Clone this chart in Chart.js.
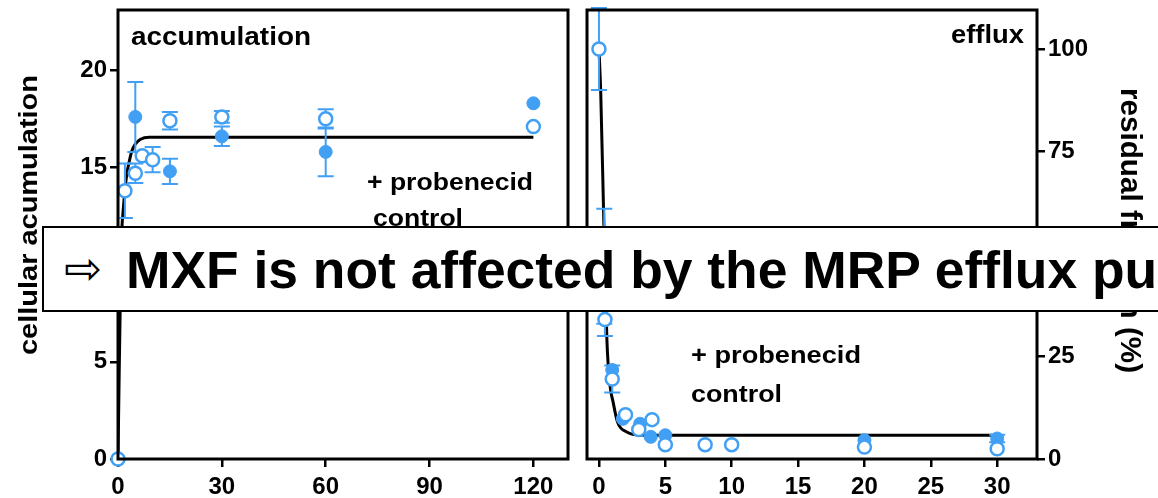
<!DOCTYPE html>
<html>
<head>
<meta charset="utf-8">
<script src="https://cdn.jsdelivr.net/npm/chart.js@4.4.1/dist/chart.umd.min.js"></script>
<style>
  body { margin: 0; width: 1158px; height: 498px; overflow: hidden; background: #fff; position: relative; }
  #accWrap { position: absolute; left: 0; top: 0; width: 580px; height: 498px; }
  #effWrap { position: absolute; left: 570px; top: 0; width: 588px; height: 498px; }
  #note { position: absolute; left: 42px; top: 226px; width: 1200px; height: 82px; border: 2px solid #000; background: #fff; }
  #arrow { position: absolute; left: 64px; top: 246px; font: 45px "DejaVu Sans"; line-height: 45px; white-space: nowrap; }
  #msg { position: absolute; left: 126px; top: 245px; font: bold 51px "Liberation Sans", Arial, sans-serif; line-height: 51px; white-space: nowrap; transform-origin: 0 0; }
</style>
</head>
<body>
<div id="accWrap"><canvas id="accChart"></canvas></div>
<div id="effWrap"><canvas id="effChart"></canvas></div>
<div id="note"></div>
<span id="arrow">⇨</span>
<span id="msg">MXF is not affected by the MRP efflux pu</span>
<script>
// accumulation panel, time in min
const accTicksX = [0, 30, 60, 90, 120];
const accTicksY = [0, 5, 10, 15, 20];
const accOpenT = [0, 2, 5, 7, 10, 15, 30, 60, 120];
const accOpenY = [0, 13.8, 14.7, 15.6, 15.4, 17.4, 17.6, 17.5, 17.1];
const accOpenErr = [0, 1.4, 0.5, 0, 0.65, 0.45, 0.3, 0.5, 0];
const accFilledT = [0, 5, 15, 30, 60, 120];
const accFilledY = [0, 17.6, 14.8, 16.6, 15.8, 18.3];
const accFilledErr = [0, 1.8, 0.65, 0.5, 1.25, 0];
const accFitT = [0, 0.35, 0.7, 1.05, 1.5, 2, 2.5, 3, 4, 5, 6.5, 9, 120];
const accFitY = [0, 4.5, 8.5, 11.5, 12.8, 13.8, 14.6, 15.1, 15.85, 16.2, 16.45, 16.55, 16.55];

// efflux panel, time in min
const effTicksX = [0, 5, 10, 15, 20, 25, 30];
const effTicksY = [0, 25, 50, 75, 100];
const effOpenT = [0, 0.45, 1, 2, 3, 4, 5, 8, 10, 20, 30];
const effOpenY = [100, 34, 19.5, 10.8, 7.2, 9.6, 3.5, 3.5, 3.5, 2.9, 2.5];
const effOpenErr = [10, 4, 3.3, 0, 0, 0, 0, 0, 0, 0, 0];
const effFilledT = [0, 0.4, 1, 1.8, 3.1, 3.9, 5, 20, 30];
const effFilledY = [100, 47, 21.7, 9.8, 8.6, 5.4, 5.8, 4.6, 5.0];
const effFilledErr = [0, 14, 0, 0, 0, 0, 0, 0, 0.9];
const effFitT = [0, 0.13, 0.38, 0.6, 0.83, 1.06, 1.4, 2.1, 2.9, 4, 30];
const effFitY = [100, 90, 56, 29, 18, 14, 9, 6.6, 5.9, 5.8, 5.8];

const BLUE = '#42a0f4';
const FONT = '"Liberation Sans", Arial, sans-serif';

Chart.defaults.font.family = FONT;
Chart.defaults.font.weight = 'bold';
Chart.defaults.color = '#000';

function pts(ts, vs) { return ts.map((t, i) => ({ x: t, y: vs[i] })); }

// draws a string stretched to a given width, from the start of its baseline
function stretchText(ctx, text, x, y, size, width, rot) {
  ctx.save();
  ctx.translate(x, y);
  if (rot) ctx.rotate(rot);
  ctx.font = 'bold ' + size + 'px ' + FONT;
  ctx.fillStyle = '#000';
  ctx.textBaseline = 'alphabetic';
  const w = ctx.measureText(text).width;
  ctx.scale(width / w, 1);
  ctx.fillText(text, 0, 0);
  ctx.restore();
}

const errorBars = {
  id: 'errorBars',
  afterDatasetDraw(chart, args) {
    if (args.index !== 0) return; // right after the fitted curve
    const ctx = chart.ctx, xs = chart.scales.x, ys = chart.scales.y;
    ctx.save();
    ctx.strokeStyle = BLUE;
    ctx.lineWidth = 2;
    chart.data.datasets.forEach(ds => {
      if (!ds.err) return;
      ds.data.forEach((p, i) => {
        const e = ds.err[i];
        if (!e) return;
        const x = xs.getPixelForValue(p.x);
        const y1 = ys.getPixelForValue(p.y + e);
        const y2 = ys.getPixelForValue(p.y - e);
        ctx.beginPath();
        ctx.moveTo(x, y1); ctx.lineTo(x, y2);
        ctx.moveTo(x - 8, y1); ctx.lineTo(x + 8, y1);
        ctx.moveTo(x - 8, y2); ctx.lineTo(x + 8, y2);
        ctx.stroke();
      });
    });
    ctx.restore();
  }
};

const frame = {
  id: 'frame',
  afterDatasetsDraw(chart) {
    const { ctx, chartArea: a } = chart;
    ctx.save();
    ctx.strokeStyle = '#000';
    ctx.lineWidth = 3;
    ctx.strokeRect(a.left, a.top, a.right - a.left, a.bottom - a.top);
    ctx.restore();
  }
};

function datasets(openT, openY, openErr, filledT, filledY, filledErr, fitT, fitY) {
  return [
    { data: pts(fitT, fitY), showLine: true, borderColor: '#000', borderWidth: 3,
      pointRadius: 0, cubicInterpolationMode: 'monotone', order: 10 },
    { data: pts(filledT, filledY), err: filledErr, pointRadius: 6.5, pointBackgroundColor: BLUE,
      pointBorderColor: BLUE, pointBorderWidth: 1, clip: false, order: 2 },
    { data: pts(openT, openY), err: openErr, pointRadius: 6.5, pointBackgroundColor: '#fff',
      pointBorderColor: BLUE, pointBorderWidth: 2.5, clip: false, order: 1 }
  ];
}

function axis(min, max, ticks, extra) {
  return Object.assign({
    type: 'linear', min: min, max: max,
    afterBuildTicks: s => { s.ticks = ticks.map(v => ({ value: v })); },
    grid: { drawOnChartArea: false, drawTicks: true, tickLength: 8, color: '#000', lineWidth: 2.5 },
    border: { display: false },
    ticks: { font: { size: 24, weight: 'bold' }, color: '#000' }
  }, extra);
}

function fitX(s) { s.height = 39; s.paddingLeft = 0; s.paddingRight = 0; }
function fitY(w) { return s => { s.width = w; s.paddingTop = 0; s.paddingBottom = 0; }; }

new Chart(document.getElementById('accChart'), {
  type: 'scatter',
  data: { datasets: datasets(accOpenT, accOpenY, accOpenErr, accFilledT, accFilledY, accFilledErr, accFitT, accFitY) },
  options: {
    responsive: true, maintainAspectRatio: false, animation: false,
    layout: { padding: { top: 10, right: 12, left: 0, bottom: 0 } },
    plugins: { legend: { display: false }, tooltip: { enabled: false } },
    scales: {
      x: axis(0, 130, accTicksX, { afterFit: fitX, ticks: { font: { size: 24, weight: 'bold' }, color: '#000', padding: 6 } }),
      y: axis(0, 23.1, accTicksY, { afterFit: fitY(118) })
    }
  },
  plugins: [errorBars, frame, {
    id: 'accText',
    afterDraw(chart) {
      const ctx = chart.ctx;
      stretchText(ctx, 'accumulation', 131, 45, 25, 180);
      stretchText(ctx, '+ probenecid', 367, 190, 24, 166);
      stretchText(ctx, 'control', 373, 226, 24, 90);
      stretchText(ctx, 'cellular acumulation', 37, 355, 26, 280, -Math.PI / 2);
    }
  }]
});

new Chart(document.getElementById('effChart'), {
  type: 'scatter',
  data: { datasets: datasets(effOpenT, effOpenY, effOpenErr, effFilledT, effFilledY, effFilledErr, effFitT, effFitY) },
  options: {
    responsive: true, maintainAspectRatio: false, animation: false,
    layout: { padding: { top: 10, right: 0, left: 17, bottom: 0 } },
    plugins: { legend: { display: false }, tooltip: { enabled: false } },
    scales: {
      x: axis(-0.9, 33, effTicksX, { afterFit: fitX, ticks: { font: { size: 24, weight: 'bold' }, color: '#000', padding: 6 } }),
      y: axis(0, 109.5, effTicksY, { position: 'right', afterFit: fitY(121) })
    }
  },
  plugins: [errorBars, frame, {
    id: 'effText',
    afterDraw(chart) {
      const ctx = chart.ctx;
      stretchText(ctx, 'efflux', 381, 43, 25, 73);
      stretchText(ctx, '+ probenecid', 121, 363, 24, 170);
      stretchText(ctx, 'control', 121, 402, 24, 91);
      stretchText(ctx, 'residual fraction (%)', 551, 88, 29, 285, Math.PI / 2);
    }
  }]
});

// the slide caption runs off the right edge
const msg = document.getElementById('msg');
msg.style.transform = 'scaleX(' + (1031 / msg.offsetWidth) + ')';
</script>
</body>
</html>
